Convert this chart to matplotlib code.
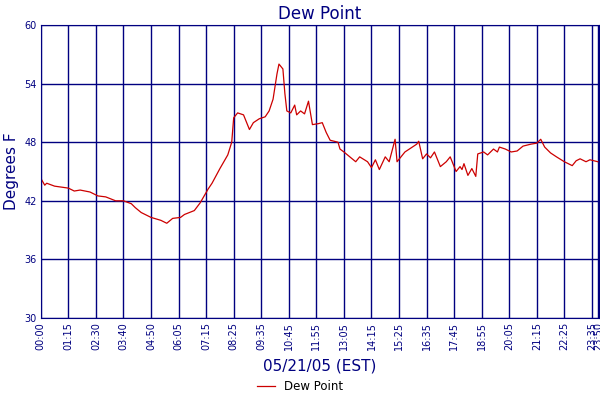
import matplotlib
matplotlib.use("Agg")
import matplotlib.pyplot as plt

idx = [0,2,3,7,14,17,20,25,29,33,38,42,46,48,51,56,61,64,67,71,73,78,81,85,87,91,95,97,98,100,103,106,108,111,114,116,118,120,121,123,124,125,127,129,130,132,134,136,137,138,141,143,145,147,151,152,154,157,160,162,166,168,170,172,175,177,180,181,183,185,188,191,192,194,196,198,200,203,206,208,211,213,214,215,217,219,221,222,225,227,230,232,233,236,239,242,245,249,252,254,256,259,262,266,270,272,274,277,279,283]
dew = [44.3,43.6,43.8,43.5,43.3,43.0,43.1,42.9,42.5,42.4,42.0,42.0,41.7,41.3,40.8,40.3,40.0,39.7,40.2,40.3,40.6,41.0,41.8,43.2,43.8,45.3,46.7,48.0,50.5,51.0,50.8,49.3,50.0,50.4,50.6,51.2,52.4,55.0,56.0,55.5,53.0,51.2,51.0,51.8,50.8,51.2,50.9,52.2,51.0,49.8,49.9,50.0,49.0,48.2,48.0,47.3,47.0,46.5,46.0,46.5,46.0,45.4,46.2,45.2,46.5,46.0,48.3,46.0,46.5,47.0,47.4,47.8,48.1,46.3,46.8,46.4,47.0,45.5,46.0,46.5,45.0,45.5,45.2,45.8,44.6,45.3,44.5,46.8,47.0,46.7,47.3,47.0,47.5,47.3,47.0,47.1,47.6,47.8,47.9,48.3,47.5,46.9,46.5,46.0,45.6,46.1,46.3,46.0,46.2,46.0]
tick_labels = ["00:00","01:15","02:30","03:40","04:50","06:05","07:15","08:25","09:35","10:45","11:55","13:05","14:15","15:25","16:35","17:45","18:55","20:05","21:15","22:25","23:35","23:50"]
tick_pos = [i*14 for i in range(21)] + [283]
yticks = [30,36,42,48,54,60]

navy = "#000080"
fig = plt.figure(figsize=(6,4), dpi=100)
ax = fig.add_axes([0.068, 0.205, 0.93, 0.7325])
ax.plot(idx, dew, color="#cc0000", lw=0.9, label="Dew Point")
ax.set_xlim(0, 283.5)
ax.set_ylim(30, 60)
ax.set_xticks(tick_pos)
ax.set_xticklabels(tick_labels, rotation=90, fontsize=7, color=navy)
ax.set_yticks(yticks)
ax.set_yticklabels([str(v) for v in yticks], fontsize=7, color=navy)
ax.tick_params(length=0, pad=3)
ax.grid(True, color=navy, lw=1)
for s in ax.spines.values():
    s.set_color(navy)
ax.set_title("Dew Point", color=navy, fontsize=12, pad=4)
ax.set_ylabel("Degrees F", color=navy, fontsize=11, labelpad=4)
ax.set_xlabel("05/21/05 (EST)", color=navy, fontsize=11, labelpad=6)
fig.legend(loc="lower center", bbox_to_anchor=(0.5, -0.01), frameon=False, fontsize=8.5, handlelength=1.5)
fig.savefig("out.png", dpi=100)
